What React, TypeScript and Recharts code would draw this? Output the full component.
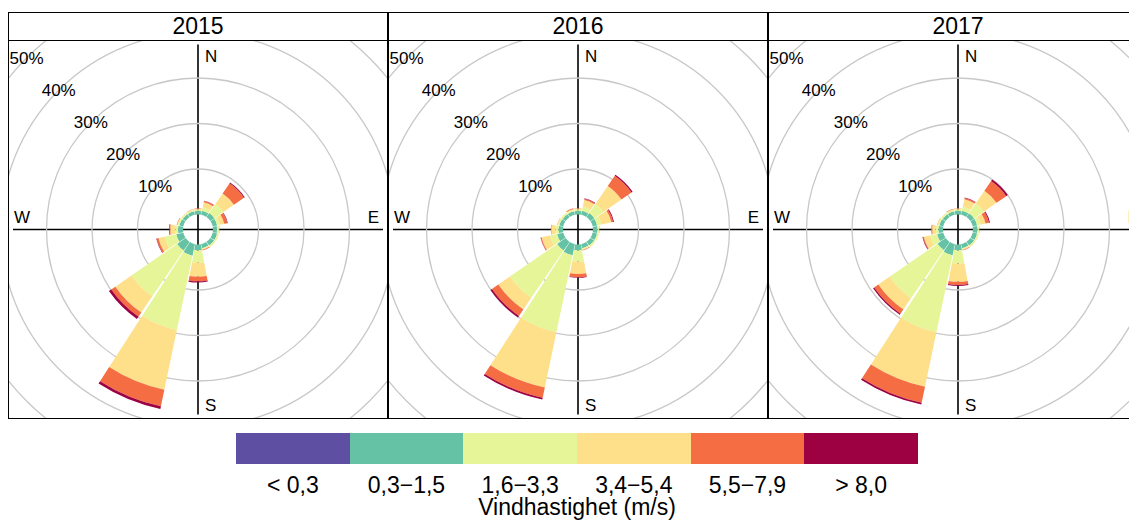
import React from 'react';
import {
    RadialBarChart,
    RadialBar,
    PolarAngleAxis,
    PolarRadiusAxis,
    PolarGrid,
} from 'recharts';

const directions = ['N', 'NNE', 'NE', 'ENE', 'E', 'ESE', 'SE', 'SSE', 'S', 'SSW', 'SW', 'WSW', 'W', 'WNW', 'NW', 'NNW'];
const years = ['2015', '2016', '2017'];
const speedLabels = ['< 0,3', '0,3−1,5', '1,6−3,3', '3,4−5,4', '5,5−7,9', '> 8,0'];
const speedColors = ['#5E4FA2', '#66C2A5', '#E6F598', '#FEE08B', '#F46D43', '#9E0142'];
const percentTicks = [10, 20, 30, 40, 50];
const classKeys = ['c0', 'c1', 'c2', 'c3', 'c4', 'c5'];

// andel (%) per riktning, en lista per vindklass
const y2015_c0 = [0, 0, 0, 0, 0, 0, 0, 0, 0, 0, 0, 0, 0, 0, 0, 0];
const y2015_c1 = [0.8, 0.9, 1.1, 1.0, 0.9, 1.0, 1.0, 0.9, 1.3, 2.6, 2.3, 1.6, 1.1, 0.9, 0.8, 0.8];
const y2015_c2 = [0.3, 0.8, 2.4, 0.6, 0.4, 0.3, 0.3, 0.2, 2.7, 16.7, 12.2, 2.6, 0.6, 0.3, 0.3, 0.3];
const y2015_c3 = [0.15, 1.1, 2.8, 1.0, 0.1, 0.1, 0.1, 0.15, 3.1, 13.4, 4.3, 1.4, 1.1, 0.2, 0.1, 0.15];
const y2015_c4 = [0.1, 0.3, 2.7, 0.7, 0.05, 0, 0, 0.15, 1.0, 3.7, 1.1, 0.4, 0.2, 0.1, 0, 0.05];
const y2015_c5 = [0, 0.05, 0.2, 0.1, 0, 0, 0, 0, 0.25, 0.6, 0.6, 0.1, 0.1, 0, 0, 0];

const y2016_c0 = [0, 0, 0, 0, 0, 0, 0, 0, 0, 0, 0, 0, 0, 0, 0, 0];
const y2016_c1 = [0.8, 0.9, 1.1, 1.0, 1.0, 1.0, 1.0, 0.9, 1.3, 2.5, 2.3, 1.4, 1.0, 0.9, 0.8, 0.8];
const y2016_c2 = [0.3, 0.9, 2.4, 1.0, 0.3, 0.3, 0.3, 0.2, 2.5, 17.3, 12.6, 1.6, 0.7, 0.3, 0.3, 0.3];
const y2016_c3 = [0.2, 1.5, 4.8, 2.2, 0.1, 0.1, 0.1, 0.2, 2.7, 12.4, 3.1, 1.9, 0.9, 0.15, 0.1, 0.2];
const y2016_c4 = [0.05, 0.3, 2.7, 0.4, 0.05, 0, 0, 0.15, 0.7, 2.3, 1.7, 0.2, 0.1, 0.05, 0, 0.2];
const y2016_c5 = [0, 0.1, 0.3, 0.2, 0, 0, 0, 0, 0.1, 0.4, 0.4, 0.05, 0, 0, 0, 0];

const y2017_c0 = [0, 0, 0, 0, 0, 0, 0, 0, 0, 0, 0, 0, 0, 0, 0, 0];
const y2017_c1 = [0.8, 0.9, 1.0, 1.0, 1.0, 1.0, 1.0, 0.9, 1.3, 2.5, 2.2, 1.4, 1.0, 0.9, 0.8, 0.8];
const y2017_c2 = [0.3, 0.9, 2.6, 0.8, 0.3, 0.3, 0.3, 0.2, 2.9, 17.3, 12.8, 1.6, 0.6, 0.3, 0.3, 0.3];
const y2017_c3 = [0.2, 1.7, 3.4, 1.1, 0.1, 0.1, 0.1, 0.2, 4.0, 12.2, 3.0, 1.4, 0.8, 0.15, 0.1, 0.15];
const y2017_c4 = [0.05, 0.3, 2.6, 0.8, 0.05, 0, 0, 0.15, 0.7, 3.6, 1.1, 0.2, 0.2, 0.05, 0, 0.1];
const y2017_c5 = [0, 0.1, 0.4, 0.2, 0, 0, 0, 0, 0.2, 0.4, 0.3, 0.1, 0, 0, 0, 0];

const seriesByYear: Record<string, number[][]> = {
    '2015': [y2015_c0, y2015_c1, y2015_c2, y2015_c3, y2015_c4, y2015_c5],
    '2016': [y2016_c0, y2016_c1, y2016_c2, y2016_c3, y2016_c4, y2016_c5],
    '2017': [y2017_c0, y2017_c1, y2017_c2, y2017_c3, y2017_c4, y2017_c5],
};

const FONT = '"Liberation Sans", Arial, Helvetica, sans-serif';
const W = 378;
const H = 377;
const CX = 189;
const CY = 188.5;
const AXIS_LEN = 185;

function buildRows(series: number[][]) {
    return directions.map((dir, d) => {
        const row: Record<string, string | number> = { dir };
        series.forEach((vals, k) => {
            row[classKeys[k]] = vals[d];
        });
        return row;
    });
}

// eslint-disable-next-line @typescript-eslint/no-explicit-any
const PctTick = (props: any) => {
    const { x, y, payload } = props;
    return (
        <text x={x} y={y} textAnchor="middle" dominantBaseline="central" fontSize={17} fill="#000" fontFamily={FONT}>
            {payload.value}%
        </text>
    );
};

function RosePanel({ year }: { year: string }) {
    const rows = buildRows(seriesByYear[year]);
    return (
        <div style={{ width: W, border: '1px solid #000', flex: 'none' }}>
            <div style={{ height: 27, lineHeight: '27px', borderBottom: '1px solid #000', textAlign: 'center', fontSize: 23 }}>
                {year}
            </div>
            <div style={{ position: 'relative', width: W, height: H, overflow: 'hidden' }}>
                <svg width={W} height={H} style={{ position: 'absolute', left: 0, top: 0 }}>
                    <line x1={CX - AXIS_LEN} y1={CY} x2={CX + AXIS_LEN} y2={CY} stroke="#000" strokeWidth={1.6} />
                    <line x1={CX} y1={CY - AXIS_LEN} x2={CX} y2={CY + AXIS_LEN} stroke="#000" strokeWidth={1.6} />
                    <g fontSize={17} fontFamily={FONT} fill="#000">
                        <text x={CX + 7} y={21}>N</text>
                        <text x={CX + 7} y={370}>S</text>
                        <text x={5} y={182}>W</text>
                        <text x={370} y={182} textAnchor="end">E</text>
                    </g>
                </svg>
                <div style={{ position: 'absolute', left: 0, top: 0 }}>
                    <RadialBarChart
                        width={W}
                        height={H}
                        data={rows}
                        layout="centric"
                        cx={CX}
                        cy={CY}
                        innerRadius={15}
                        outerRadius={242.5}
                        startAngle={78.75}
                        endAngle={-281.25}
                        barCategoryGap="4%"
                        margin={{ top: 0, right: 0, bottom: 0, left: 0 }}
                    >
                        <PolarGrid gridType="circle" radialLines={false} stroke="#c8c8c8" strokeWidth={1.3} />
                        <PolarAngleAxis type="category" dataKey="dir" tick={false} axisLine={false} tickLine={false} />
                        <PolarRadiusAxis
                            type="number"
                            domain={[0, 50]}
                            ticks={percentTicks}
                            angle={135}
                            axisLine={false}
                            tickLine={false}
                            tick={<PctTick />}
                        />
                        {classKeys.map((k, i) => (
                            <RadialBar key={k} dataKey={k} stackId="v" fill={speedColors[i]} stroke="none" isAnimationActive={false} />
                        ))}
                    </RadialBarChart>
                </div>
            </div>
        </div>
    );
}

export default function App() {
    const segW = 682 / speedLabels.length;
    return (
        <div style={{ position: 'relative', width: 1129, height: 514, overflow: 'hidden', fontFamily: FONT, color: '#000' }}>
            <div style={{ position: 'absolute', left: 0, top: 4, display: 'flex', width: 1200 }}>
                {years.map((y) => (
                    <RosePanel key={y} year={y} />
                ))}
            </div>
            <div style={{ position: 'absolute', left: 228, top: 425, width: 682, height: 31, display: 'flex' }}>
                {speedColors.map((c, i) => (
                    <div key={i} style={{ width: segW, height: 31, background: c }} />
                ))}
            </div>
            {speedLabels.map((lab, i) => (
                <div
                    key={lab}
                    style={{
                        position: 'absolute',
                        left: 228 + i * segW - 20,
                        width: segW + 40,
                        top: 466,
                        height: 22,
                        lineHeight: '22px',
                        fontSize: 23,
                        textAlign: 'center',
                        whiteSpace: 'nowrap',
                    }}
                >
                    {lab}
                </div>
            ))}
            <div style={{ position: 'absolute', left: 228, width: 682, top: 488, height: 22, lineHeight: '22px', fontSize: 23, textAlign: 'center' }}>
                Vindhastighet (m/s)
            </div>
        </div>
    );
}
